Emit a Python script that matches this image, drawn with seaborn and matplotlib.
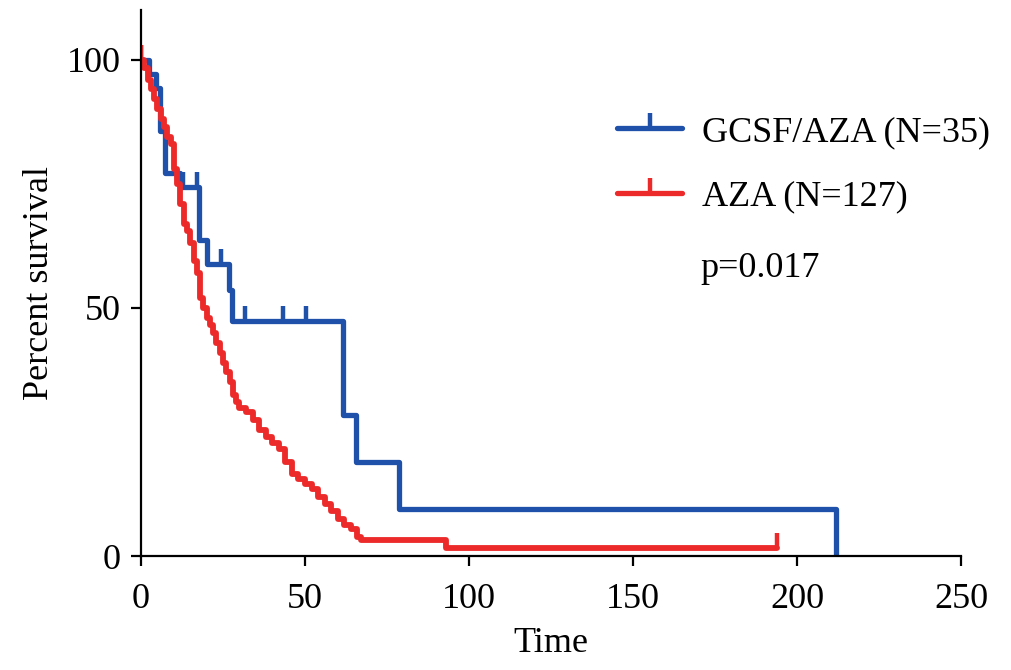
import matplotlib
matplotlib.use("Agg")
import matplotlib.pyplot as plt
import seaborn as sns
import pandas as pd
from matplotlib.lines import Line2D

# survival curves (time, percent survival)
gcsf_time = [0, 2.4, 4.6, 5.8, 7.3, 11.9, 17.7, 20.1, 26.8, 27.7, 61.6, 65.5, 78.7, 212]
gcsf_surv = [100, 97.1, 94.3, 85.7, 77.1, 74.3, 63.7, 58.9, 53.6, 47.4, 28.4, 19.0, 9.5, 0]
gcsf_cens_time = [0, 12.8, 17.1, 24.4, 31.7, 43.3, 50.3]
gcsf_cens_surv = [100, 74.3, 74.3, 58.9, 47.4, 47.4, 47.4]

aza_time = [0, 1, 2, 3, 4, 5, 6, 7, 8, 9, 10, 11, 12, 13, 14, 15, 16, 17, 18, 19,
            20, 21, 22, 23, 24, 25, 26, 27, 28, 29, 30, 32, 34, 36, 38, 40, 42, 44,
            46, 48, 50, 52, 54, 56, 58, 60, 62, 64, 66, 67, 93, 194]
aza_surv = [100, 98.4, 96, 94, 92, 90, 88, 86.5, 84.5, 83, 78, 75, 71, 67, 65.5, 63,
            59.5, 57, 52, 50, 48, 46.5, 45, 43, 41, 39, 37, 35, 32.5, 31, 29.9, 29,
            27.5, 25.5, 24, 22.8, 21.5, 19, 16.5, 15.5, 14.5, 13.5, 12, 10.5, 9, 7.5,
            6.3, 5.5, 3.9, 3.2, 1.6, 1.6]
aza_cens_time = [0, 194]
aza_cens_surv = [100, 1.6]

labels = ["GCSF/AZA (N=35)", "AZA (N=127)"]
p_text = "p=0.017"

blue = "#1f50aa"
red = "#ec2a2a"

sns.set_style("ticks")
plt.rcParams["font.family"] = ["Liberation Serif", "DejaVu Serif"]
plt.rcParams["text.color"] = "black"
plt.rcParams["axes.labelcolor"] = "black"
plt.rcParams["xtick.color"] = "black"
plt.rcParams["ytick.color"] = "black"
plt.rcParams["axes.edgecolor"] = "black"

df_g = pd.DataFrame({"time": gcsf_time, "surv": gcsf_surv})
df_a = pd.DataFrame({"time": aza_time, "surv": aza_surv})

fig = plt.figure(figsize=(10.11, 6.70), dpi=100)
ax = fig.add_axes([0.1395, 0.170, 0.811, 0.815])

sns.lineplot(data=df_g, x="time", y="surv", ax=ax, color=blue, lw=3.8,
             drawstyle="steps-post", estimator=None)
ax.plot(gcsf_cens_time, gcsf_cens_surv, ls="none", marker=2, ms=11, mew=3.2, color=blue)
sns.lineplot(data=df_a, x="time", y="surv", ax=ax, color=red, lw=4.2,
             drawstyle="steps-post", estimator=None)
ax.plot(aza_cens_time, aza_cens_surv, ls="none", marker=2, ms=11, mew=3.2, color=red)

ax.set_xlim(0, 250)
ax.set_ylim(0, 110)
ax.set_xticks([0, 50, 100, 150, 200, 250])
ax.set_yticks([0, 50, 100])
ax.tick_params(labelsize=26, length=7.5, width=1.6, direction="out")
ax.tick_params(axis="x", pad=12)
ax.tick_params(axis="y", pad=7)
ax.set_xlabel("Time", fontsize=26, labelpad=8)
ax.set_ylabel("Percent survival", fontsize=26, labelpad=8)
for side in ["top", "right"]:
    ax.spines[side].set_visible(False)
for side in ["left", "bottom"]:
    ax.spines[side].set_linewidth(1.6)

handles = [Line2D([], [], color=blue, lw=3.8, marker=2, ms=11, mew=3.2),
           Line2D([], [], color=red, lw=3.8, marker=2, ms=11, mew=3.2)]
leg = ax.legend(handles, labels, loc="upper left", bbox_to_anchor=(0.563, 0.833),
                frameon=False, fontsize=26, numpoints=1, handlelength=1.8,
                handletextpad=0.55, labelspacing=0.86, borderaxespad=0)
ax.text(0.682, 0.527, p_text, transform=ax.transAxes, fontsize=26, va="center")

fig.savefig("out.png", dpi=100)
